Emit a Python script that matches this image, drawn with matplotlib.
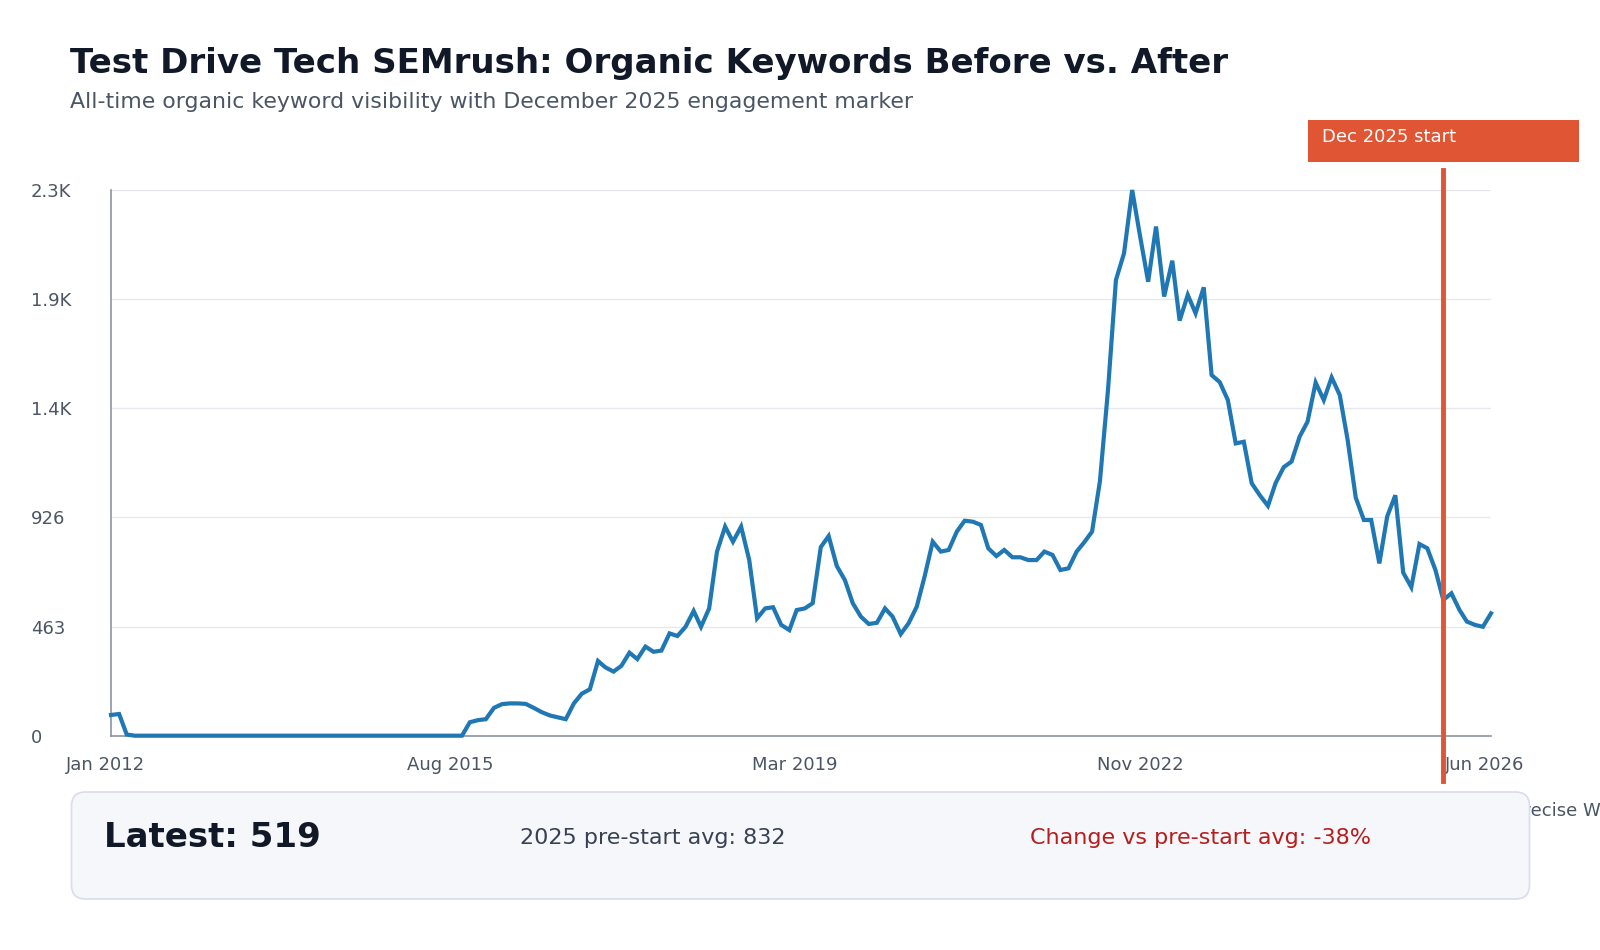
"""Organic keywords before/after chart for Test Drive Tech (SEMrush export)."""

import matplotlib

matplotlib.use("Agg")
import matplotlib.dates as mdates  # noqa: E402
import matplotlib.pyplot as plt  # noqa: E402
import matplotlib.transforms as mtrans  # noqa: E402
import pandas as pd  # noqa: E402
from matplotlib.patches import FancyBboxPatch, Rectangle  # noqa: E402

# monthly organic keywords, Jan 2012 .. Jun 2026
START_MONTH = "2012-01-01"
KEYWORDS = [
    88, 92, 5, 0, 0, 0, 0, 0, 0, 0, 0, 0,                      # 2012
    0, 0, 0, 0, 0, 0, 0, 0, 0, 0, 0, 0,                        # 2013
    0, 0, 0, 0, 0, 0, 0, 0, 0, 0, 0, 0,                        # 2014
    0, 0, 0, 0, 0, 0, 0, 0, 0, 57, 66, 70,                     # 2015
    118, 134, 137, 137, 135, 118, 100, 86, 78, 70, 137, 178,   # 2016
    197, 317, 290, 272, 296, 352, 325, 378, 356, 361, 434, 423,  # 2017
    462, 529, 462, 540, 781, 887, 823, 887, 745, 498, 540, 545,  # 2018
    470, 448, 533, 540, 562, 800, 847, 720, 660, 562, 505, 474,  # 2019
    479, 540, 505, 431, 477, 547, 675, 823, 781, 788, 866, 912,  # 2020
    908, 894, 795, 762, 788, 757, 757, 745, 745, 781, 767, 703,  # 2021
    710, 781, 819, 866, 1080, 1470, 1933, 2047, 2315, 2120, 1926, 2160,  # 2022
    1863, 2015, 1761, 1870, 1792, 1902, 1530, 1500, 1424, 1240, 1247, 1071,  # 2023
    1020, 975, 1071, 1139, 1163, 1269, 1332, 1498, 1424, 1520, 1445, 1255,  # 2024
    1010, 915, 915, 731, 930, 1020, 692, 630, 813, 795, 703, 576,  # 2025
    604, 533, 484, 470, 462, 519,                              # 2026
]
MARKER_DATE = "2025-12-01"
MARKER_LABEL = "Dec 2025 start"
X_TICK_LABELS = ["Jan 2012", "Aug 2015", "Mar 2019", "Nov 2022", "Jun 2026"]

LATEST = 519
PRE_START_AVG = 832
CHANGE_PCT = -38

TITLE = "Test Drive Tech SEMrush: Organic Keywords Before vs. After"
SUBTITLE = "All-time organic keyword visibility with December 2025 engagement marker"

LINE_C = "#1f77b4"
MARK_C = "#e05533"
INK = "#111827"
MUTED = "#4b5563"

W, H = 1600, 950


def k_fmt(v):
    return f"{v / 1000:.1f}K" if v >= 1000 else f"{v:.0f}"


dates = pd.date_range(START_MONTH, periods=len(KEYWORDS), freq="MS")

fig = plt.figure(figsize=(W / 100, H / 100), dpi=100)
fig.patch.set_facecolor("white")

# main plot area, placed in pixels
ax_l, ax_r, ax_t, ax_b = 111, 1491, 190, 735.7
ax = fig.add_axes([ax_l / W, 1 - ax_b / H, (ax_r - ax_l) / W, (ax_b - ax_t) / H])

ax.plot(dates, KEYWORDS, color=LINE_C, lw=3, solid_joinstyle="miter",
        zorder=3, clip_on=False)

ymax = max(KEYWORDS)
ax.set_xlim(dates[0], dates[-1])
ax.set_ylim(0, ymax)

yt = [ymax * i / 5 for i in range(6)]
ax.set_yticks(yt)
ax.set_yticklabels([k_fmt(v) for v in yt])

x0, x1 = mdates.date2num(dates[0]), mdates.date2num(dates[-1])
ax.set_xticks([x0 + (x1 - x0) * i / 4 for i in range(5)])
ax.set_xticklabels(X_TICK_LABELS)

ax.tick_params(axis="y", length=0, pad=57.6, labelsize=13, labelcolor=MUTED)
ax.tick_params(axis="x", length=0, pad=14.5, labelsize=13, labelcolor=MUTED)

# after tick_params, which would reset these
for lbl in ax.get_yticklabels():
    lbl.set_horizontalalignment("left")
shift = mtrans.ScaledTranslation(-6 / 100, 0, fig.dpi_scale_trans)
for lbl in ax.get_xticklabels():
    lbl.set_transform(lbl.get_transform() + shift)

ax.yaxis.grid(True, color="#e6e8ef", lw=1)
ax.set_axisbelow(True)
for s in ("top", "right"):
    ax.spines[s].set_visible(False)
for s in ("left", "bottom"):
    ax.spines[s].set_color("#8b94a3")
    ax.spines[s].set_linewidth(1.2)

# engagement marker, running past the plot edges
mdate = pd.Timestamp(MARKER_DATE)
ax.axvline(mdate, ymin=-45.3 / (ax_b - ax_t), ymax=1 + 20 / (ax_b - ax_t),
           color=MARK_C, lw=3.5, clip_on=False, zorder=4)

# overlay in figure pixels (y down) for title, label and stat card
ov = fig.add_axes([0, 0, 1, 1])
ov.set_xlim(0, W)
ov.set_ylim(H, 0)
ov.axis("off")
ov.patch.set_visible(False)

ov.text(69.5, 63, TITLE, ha="left", va="center", fontsize=24.5,
        weight="bold", color=INK)
ov.text(69.5, 102, SUBTITLE, ha="left", va="center", fontsize=15.8,
        color=MUTED)

mx = ax.transData.transform((mdates.date2num(mdate), 0))[0]
ov.add_patch(Rectangle((mx - 135.5, 120), 271, 42, facecolor=MARK_C,
                       edgecolor="none"))
ov.text(mx - 121, 137, MARKER_LABEL, ha="left", va="center", fontsize=13,
        color="white")

# footnote mostly hidden behind the card
ov.text(1513, 811, "Precise Weekly data", ha="left", va="center",
        fontsize=13, color=MUTED, zorder=1)

ov.add_patch(FancyBboxPatch((71.5, 792), 1458, 107,
                            boxstyle="round,pad=0,rounding_size=14",
                            facecolor="#f6f7fb", edgecolor="#d9dcea",
                            lw=1.2, zorder=2))
ov.text(104, 847, f"Latest: {LATEST}", ha="left", va="baseline",
        fontsize=24.5, weight="bold", color=INK, zorder=3)
ov.text(520, 844, f"2025 pre-start avg: {PRE_START_AVG}", ha="left",
        va="baseline", fontsize=16, color="#374151", zorder=3)
ov.text(1030, 844, f"Change vs pre-start avg: {CHANGE_PCT}%", ha="left",
        va="baseline", fontsize=16, color="#b91c1c", zorder=3)

fig.savefig("out.png", dpi=100)
